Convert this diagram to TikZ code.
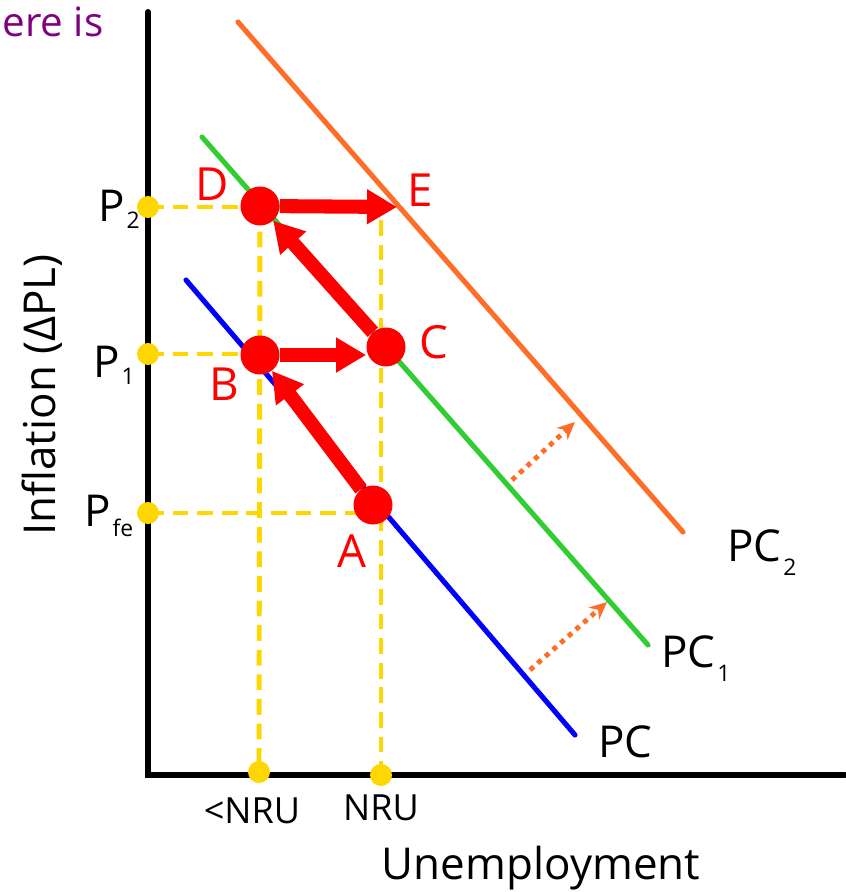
\documentclass[tikz,border=0pt]{standalone}
\usepackage{fontspec}
\setmainfont{Open Sans}
\usetikzlibrary{arrows.meta}
\definecolor{CurveBlue}{RGB}{0,0,255}
\definecolor{CurveGreen}{RGB}{50,205,50}
\definecolor{CurveOrange}{RGB}{255,110,40}
\definecolor{Gold}{RGB}{255,215,0}
\definecolor{Plum}{RGB}{128,0,128}
\newcommand{\lowsub}[2][-4pt]{\kern1pt\raisebox{#1}{\fontsize{13}{15}\selectfont #2}}

\begin{document}
\begin{tikzpicture}[x=0.02cm,y=-0.02cm,
    axisline/.style={line width=3.4pt,line cap=round},
    curve/.style={line width=2.9pt,line cap=round},
    guide/.style={Gold,line width=2.8pt,dash pattern=on 9pt off 5pt},
    axisdot/.style={circle,fill=Gold,inner sep=0pt,minimum size=0.44cm},
    point/.style={circle,fill=red,inner sep=0pt,minimum size=0.78cm},
    lbl/.style={font=\fontsize{25}{29}\selectfont},
    ticklbl/.style={font=\fontsize{20.5}{24}\selectfont},
    ptlbl/.style={red,font=\fontsize{26}{30}\selectfont},
    move/.style={red,line width=8pt,-{Triangle[length=0.6cm,width=0.66cm]}},
    drift/.style={CurveOrange,line width=2.8pt,dash pattern=on 2.8pt off 3pt,-{Stealth[length=0.35cm,width=0.32cm]}}
]
\useasboundingbox (0,0) rectangle (845,892);

% cut-off caption
\node[Plum,anchor=west,inner sep=0pt,font=\fontsize{23}{27}\selectfont] (caption) at (2,22) {ere is};

% axes
\coordinate (origin) at (148,775);
\draw[axisline] (148,12) -- (origin) -- (845,775);
\node[lbl,rotate=90] (ylabel) at (42,395) {Inflation (ΔPL)};
\node[lbl] (xlabel) at (541,868) {Unemployment};

% Phillips curves
\draw[curve,CurveBlue] (186,280) -- (575,735);
\draw[curve,CurveGreen] (202,137) -- (648,645);
\draw[curve,CurveOrange] (238,22) -- (683,532);
\node[lbl,anchor=west,inner sep=0pt] (pc0) at (598,742) {PC};
\node[lbl,anchor=west,inner sep=0pt] (pc1) at (661,659) {PC\lowsub[-8pt]{1}};
\node[lbl,anchor=west,inner sep=0pt] (pc2) at (727,553) {PC\lowsub[-8pt]{2}};

% shifts of the curve
\coordinate (s1-from) at (530,670);
\coordinate (s1-to) at (607,602);
\coordinate (s2-from) at (512,480);
\coordinate (s2-to) at (575,422);
\draw[drift] (s1-from) -- (s1-to);
\draw[drift] (s2-from) -- (s2-to);

% axis markers
\node[axisdot] (p2) at (148,207) {};
\node[axisdot] (p1) at (148,354) {};
\node[axisdot] (pfe) at (148,513) {};
\node[axisdot] (lnru) at (259,772) {};
\node[axisdot] (nru) at (381,775) {};
\node[lbl,anchor=west,inner sep=0pt] (lab-p2) at (98,209) {P\lowsub{2}};
\node[lbl,anchor=west,inner sep=0pt] (lab-p1) at (93,365) {P\lowsub{1}};
\node[lbl,anchor=west,inner sep=0pt] (lab-pfe) at (84,516) {P\lowsub[-6pt]{fe}};
\node[ticklbl] (lab-lnru) at (252,811) {<NRU};
\node[ticklbl] (lab-nru) at (381,808) {NRU};

% guide lines
\coordinate (e-top) at (381,207);
\coordinate (b-left) at (259,354);
\coordinate (a-left) at (381,513);
\draw[guide] (p2.center) -- (e-top) -- (nru.center);
\draw[guide] (p1.center) -- (b-left);
\draw[guide] (pfe.center) -- (a-left);
\draw[guide] (260,207) -- (lnru.center);

% points
\node[point] (A) at (373,505) {};
\node[point] (B) at (260,355) {};
\node[point] (C) at (386,347) {};
\node[point] (D) at (260,206) {};
\coordinate (E) at (397,207);
\node[ptlbl] (lab-a) at (352,551) {A};
\node[ptlbl] (lab-b) at (224,384) {B};
\node[ptlbl] (lab-c) at (434,342) {C};
\node[ptlbl] (lab-d) at (212,184) {D};
\node[ptlbl] (lab-e) at (420,190) {E};

% movements
\draw[move] (A) -- (B);
\draw[move] (B) -- (C.west |- B);
\draw[move] (C) -- (D);
\draw[move] (D) -- (E);

\end{tikzpicture}
\end{document}
